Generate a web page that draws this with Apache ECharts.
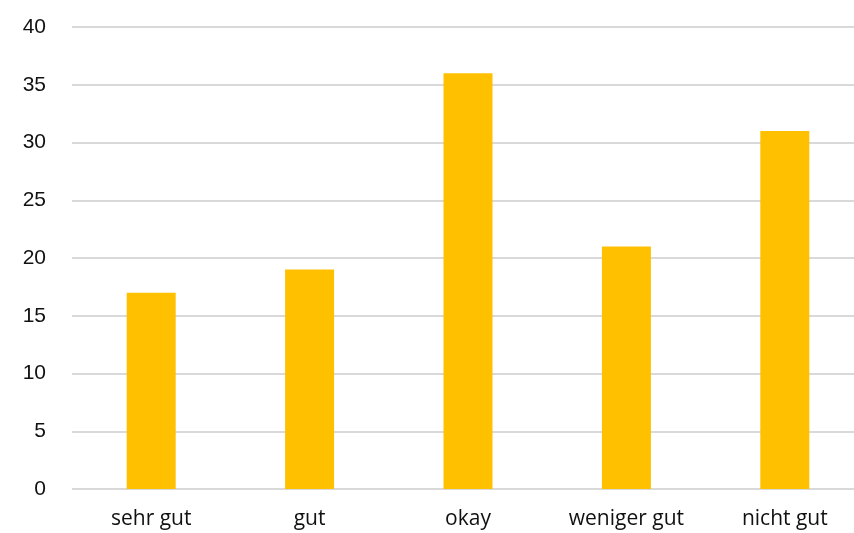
<!DOCTYPE html>
<html><head><meta charset="utf-8">
<script src="https://cdn.jsdelivr.net/npm/echarts@6/dist/echarts.min.js"></script>
<style>html,body{margin:0;padding:0;background:#fff;overflow:hidden}#c{width:854px;height:533px}</style>
</head><body><div id="c"></div>
<script>
const categories = ["sehr gut", "gut", "okay", "weniger gut", "nicht gut"];
const values = [17, 19, 36, 21, 31];
const yTicks = [0, 5, 10, 15, 20, 25, 30, 35, 40];

const chart = echarts.init(document.getElementById('c'));
chart.setOption({
  animation: false,
  grid: { left: 72, width: 792, top: 27, bottom: 44, containLabel: false, outerBoundsMode: 'none' },
  xAxis: {
    type: 'category',
    data: categories,
    axisLine: { show: false },
    axisTick: { show: false },
    axisLabel: { color: '#111', fontSize: 21, fontFamily: 'Open Sans', margin: 20 }
  },
  yAxis: {
    type: 'value',
    min: yTicks[0], max: yTicks[yTicks.length - 1], interval: 5,
    axisLine: { show: false },
    axisTick: { show: false },
    splitLine: { lineStyle: { color: '#d9d9d9', width: 2 } },
    axisLabel: { color: '#111', fontSize: 21, fontFamily: 'Liberation Sans', margin: 26 }
  },
  series: [{
    type: 'bar',
    data: values,
    barWidth: 49,
    itemStyle: { color: '#FFC000' }
  }]
});
</script></body></html>
